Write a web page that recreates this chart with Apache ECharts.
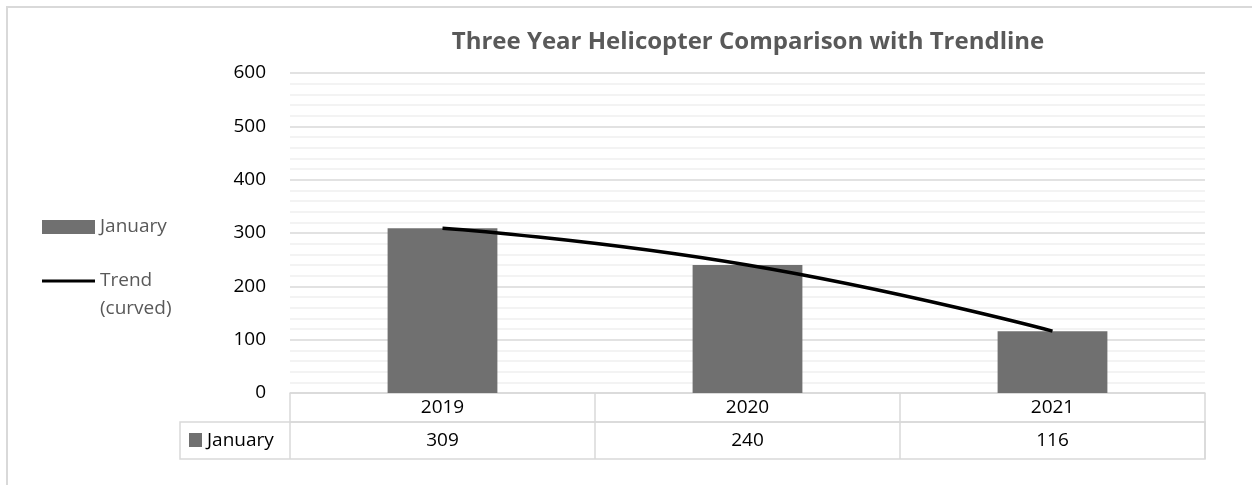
<!DOCTYPE html>
<html>
<head>
<meta charset="utf-8">
<script src="https://cdn.jsdelivr.net/npm/echarts@6/dist/echarts.min.js"></script>
<style>
html,body{margin:0;padding:0;background:#fff;}
#chart{width:1252px;height:485px;}
</style>
</head>
<body>
<div id="chart"></div>
<script>
const titleText = 'Three Year Helicopter Comparison with Trendline';
const categories = ['2019', '2020', '2021'];
const januaryValues = [309, 240, 116];
const trendValues = [309, 240, 116];
const barName = 'January';
const trendName = 'Trend (curved)';
const yMin = 0, yMax = 600, yInterval = 100;

const FONT = 'Open Sans';
const chart = echarts.init(document.getElementById('chart'), null, {renderer: 'canvas'});
const gridLeft = 290, gridRight = 47, gridTop = 73, gridBottom = 92;
const W = 1252, H = 485;
const tableTop = H - gridBottom;      // 393
const row1 = 29, row2 = 37;
const FS = 19;

chart.setOption({
  animation: false,
  backgroundColor: '#fff',
  textStyle: {fontFamily: FONT},
  title: {
    text: titleText,
    left: 743, top: 25, textAlign: 'center',
    textStyle: {fontFamily: FONT, fontSize: 24, fontWeight: 'bold', color: '#595959'}
  },
  legend: [{
    data: [{name: barName, icon: 'rect'}], orient: 'vertical', left: 42, top: 213, padding: 0,
    itemWidth: 53, itemHeight: 14, itemGap: 0,
    textStyle: {fontFamily: FONT, fontSize: FS, color: '#595959', lineHeight: 28}
  }, {
    data: [{name: trendName, icon: 'rect'}], orient: 'vertical', left: 42, top: 239, padding: 0,
    itemWidth: 53, itemHeight: 3,
    formatter: () => '\u200b\nTrend\n(curved)',
    textStyle: {fontFamily: FONT, fontSize: FS, color: '#595959', lineHeight: 28}
  }],
  grid: {left: gridLeft, right: gridRight, top: gridTop, bottom: gridBottom, containLabel: false},
  xAxis: [{
    type: 'category', data: categories, position: 'bottom',
    axisLine: {show: true, lineStyle: {color: '#d9d9d9', width: 1.5}},
    axisTick: {show: true, length: row1, lineStyle: {color: '#d9d9d9', width: 1.5}},
    axisLabel: {fontFamily: FONT, fontSize: FS, color: '#000', margin: 5},
    splitLine: {show: false}
  }, {
    type: 'category', data: januaryValues.map(String), position: 'bottom', offset: row1,
    axisLine: {show: true, lineStyle: {color: '#d9d9d9', width: 1.5}},
    axisTick: {show: true, length: row2, lineStyle: {color: '#d9d9d9', width: 1.5}},
    axisLabel: {fontFamily: FONT, fontSize: FS, color: '#000', margin: 9},
    splitLine: {show: false}
  }],
  yAxis: {
    type: 'value', min: yMin, max: yMax, interval: yInterval,
    axisLine: {show: false}, axisTick: {show: false},
    axisLabel: {fontFamily: FONT, fontSize: FS, color: '#000', margin: 24},
    splitLine: {show: true, lineStyle: {color: '#d9d9d9', width: 1.5}},
    minorTick: {show: false, splitNumber: 5},
    minorSplitLine: {show: true, lineStyle: {color: '#f0f0f0', width: 1.5}}
  },
  series: [{
    name: barName, type: 'bar', data: januaryValues, xAxisIndex: 0,
    barWidth: '36%', itemStyle: {color: '#707070'}
  }, {
    name: trendName, type: 'line', data: trendValues, xAxisIndex: 0,
    smooth: 0.5, symbol: 'none', z: 5,
    lineStyle: {color: '#000', width: 3.5},
    itemStyle: {color: '#000'}
  }],
  graphic: [{
    type: 'rect', silent: true, z: -1,
    shape: {x: 7, y: 7, width: 1400, height: 700},
    style: {fill: 'none', stroke: '#d9d9d9', lineWidth: 2}
  }, {
    type: 'rect', silent: true,
    shape: {x: 180, y: tableTop + row1, width: W - gridRight - 180, height: row2},
    style: {fill: 'none', stroke: '#d9d9d9', lineWidth: 1.5}
  }, {
    type: 'rect', silent: true,
    shape: {x: 189, y: tableTop + row1 + 11, width: 13, height: 14},
    style: {fill: '#707070'}
  }, {
    type: 'text', silent: true, x: 207, y: tableTop + row1 + row2 / 2,
    style: {text: barName, fontFamily: FONT, fontSize: FS, fill: '#000', verticalAlign: 'middle'}
  }]
});
</script>
</body>
</html>
